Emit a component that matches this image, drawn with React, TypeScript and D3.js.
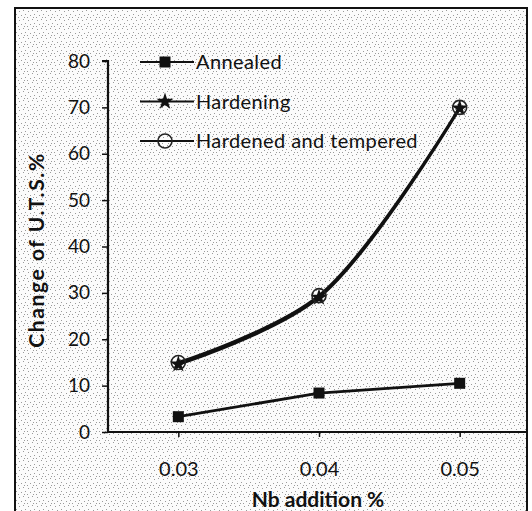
import React from 'react';
import * as d3 from 'd3';

// Nb addition (%)
const nbAddition = [0.03, 0.04, 0.05];
// Change of U.T.S. (%)
const annealed = [3.3, 8.4, 10.5];
const hardening = [14.6, 29, 69.8];
const hardenedTempered = [15, 29.4, 70];

const yTicks = [0, 10, 20, 30, 40, 50, 60, 70, 80];
const xTickLabels = ['0.03', '0.04', '0.05'];
const legendLabels = ['Annealed', 'Hardening', 'Hardened and tempered'];

const W = 532;
const H = 511;

const App: React.FC = () => {
  const svgRef = React.useRef<SVGSVGElement>(null);

  React.useEffect(() => {
    if (!svgRef.current) return;
    const svg = d3.select(svgRef.current);
    svg.selectAll('*').remove();

    const font = 'Lato, "Open Sans", sans-serif';

    // 스캔 배경 느낌
    const defs = svg.append('defs');
    const pat = defs.append('pattern')
      .attr('id', 'speckle')
      .attr('width', 9)
      .attr('height', 9)
      .attr('patternUnits', 'userSpaceOnUse');
    pat.append('rect').attr('width', 9).attr('height', 9).attr('fill', '#fbfbfb');
    [[1, 2], [5, 1], [3, 6], [7, 5], [0, 8], [6, 8]].forEach(([px, py]) => {
      pat.append('rect').attr('x', px).attr('y', py).attr('width', 1).attr('height', 1).attr('fill', '#9a9a9a');
    });

    svg.append('rect')
      .attr('width', W)
      .attr('height', H)
      .attr('fill', '#ffffff');
    svg.append('rect')
      .attr('x', 15)
      .attr('y', 8)
      .attr('width', 512)
      .attr('height', H)
      .attr('fill', 'url(#speckle)')
      .attr('stroke', '#111')
      .attr('stroke-width', 2);

    const x = d3.scaleLinear().domain([0.025, 0.055]).range([108, 530]);
    const y = d3.scaleLinear().domain([0, 80]).range([432, 61]);

    // Y축
    const yAxis = svg.append('g')
      .attr('transform', `translate(${x(0.025)},0)`)
      .call(d3.axisLeft(y).tickValues(yTicks).tickSize(6).tickPadding(12));
    yAxis.select('.domain').attr('stroke', '#111').attr('stroke-width', 2.2)
      .attr('d', `M-6,${y(80)}H0V${y(0)}`);
    yAxis.selectAll('.tick line').attr('stroke', '#111').attr('stroke-width', 1.5);
    yAxis.selectAll('.tick text')
      .attr('font-family', font)
      .attr('font-size', 19)
      .attr('fill', '#111');

    // X축
    const xAxis = svg.append('g')
      .attr('transform', `translate(0,${y(0)})`)
      .call(d3.axisBottom(x).tickValues(nbAddition).tickFormat((_, i) => xTickLabels[i]).tickSize(5).tickPadding(25));
    xAxis.select('.domain').attr('stroke', '#111').attr('stroke-width', 2.2)
      .attr('d', `M${x(0.025)},0H527`);
    xAxis.selectAll('.tick line').attr('stroke', '#111').attr('stroke-width', 1.5);
    xAxis.selectAll('.tick text')
      .attr('font-family', font)
      .attr('font-size', 20)
      .attr('fill', '#111');

    // 선 그리기
    const series = [
      { values: annealed, curve: d3.curveLinear, marker: 'square' },
      { values: hardening, curve: d3.curveCatmullRom, marker: 'star' },
      { values: hardenedTempered, curve: d3.curveCatmullRom, marker: 'circle' }
    ];

    const drawMarker = (g: d3.Selection<SVGGElement, unknown, null, undefined>, kind: string, cx: number, cy: number) => {
      if (kind === 'square') {
        g.append('rect')
          .attr('x', cx - 5.5).attr('y', cy - 5.5)
          .attr('width', 11).attr('height', 11)
          .attr('fill', '#111');
      } else if (kind === 'star') {
        g.append('path')
          .attr('transform', `translate(${cx},${cy})`)
          .attr('d', d3.symbol(d3.symbolStar, 90)())
          .attr('fill', '#111');
      } else {
        g.append('circle')
          .attr('cx', cx).attr('cy', cy).attr('r', 7)
          .attr('fill', 'none')
          .attr('stroke', '#222')
          .attr('stroke-width', 1.6);
      }
    };

    const plot = svg.append('g');
    series.forEach(s => {
      const line = d3.line<number>()
        .x((_, i) => x(nbAddition[i]))
        .y(d => y(d))
        .curve(s.curve);
      plot.append('path')
        .datum(s.values)
        .attr('fill', 'none')
        .attr('stroke', '#111')
        .attr('stroke-width', 2.8)
        .attr('d', line);
    });
    series.forEach(s => {
      s.values.forEach((v, i) => drawMarker(plot, s.marker, x(nbAddition[i]), y(v)));
    });

    // 범례
    const legend = svg.append('g').attr('transform', 'translate(140,62)');
    legendLabels.forEach((label, i) => {
      const lg = legend.append('g').attr('transform', `translate(0,${i * 39.5})`);
      lg.append('line')
        .attr('x1', 0).attr('x2', 54)
        .attr('y1', 0).attr('y2', 0)
        .attr('stroke', '#111')
        .attr('stroke-width', 2);
      drawMarker(lg, series[i].marker, 25, 0);
      lg.append('text')
        .attr('x', 56)
        .attr('y', 7)
        .attr('font-family', font)
        .attr('font-size', 20)
        .attr('letter-spacing', 0.4)
        .attr('fill', '#111')
        .text(label);
    });

    // 축 라벨
    svg.append('text')
      .attr('transform', `translate(44,250) rotate(-90)`)
      .attr('text-anchor', 'middle')
      .attr('font-family', font)
      .attr('font-weight', 'bold')
      .attr('font-size', 21)
      .attr('letter-spacing', 1.6)
      .attr('fill', '#111')
      .text('Change of U.T.S.%');

    svg.append('text')
      .attr('x', 318)
      .attr('y', 507)
      .attr('text-anchor', 'middle')
      .attr('font-family', font)
      .attr('font-weight', 'bold')
      .attr('font-size', 21)
      .attr('fill', '#111')
      .text('Nb addition %');
  }, []);

  return (
    <svg
      ref={svgRef}
      width={W}
      height={H}
      style={{ position: 'absolute', left: 0, top: 0, display: 'block' }}
    />
  );
};

export default App;
